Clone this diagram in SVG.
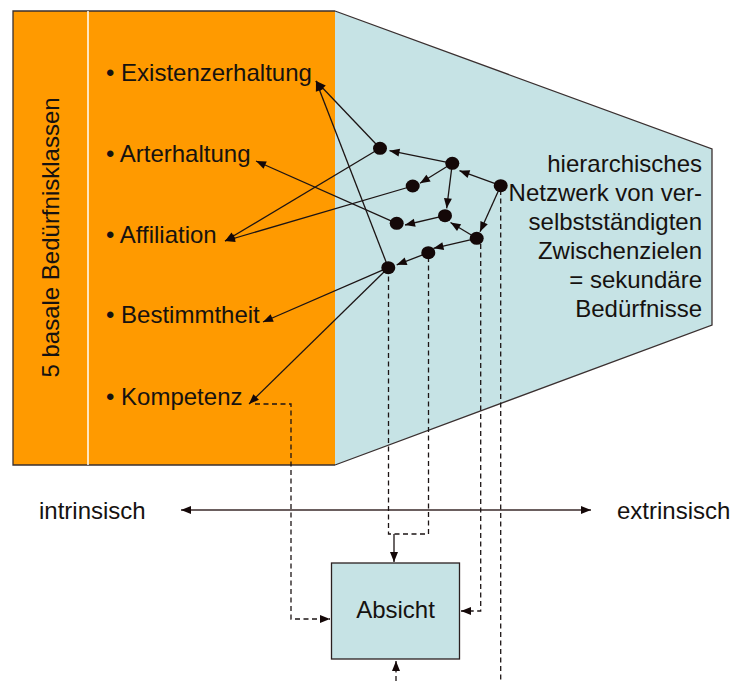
<svg xmlns="http://www.w3.org/2000/svg" width="734" height="681" viewBox="0 0 734 681">
  <style>
    .t { font-family: "Liberation Sans", Arial, sans-serif; font-size: 24px; fill: #161210; }
    .edge { fill: none; stroke: #1c1414; stroke-width: 1.3; }
    .dash { fill: none; stroke: #1c1414; stroke-width: 1.3; stroke-dasharray: 5 3.5; }
    .dot { fill: #140808; }
  </style>
  <defs>
    <marker id="arr" markerUnits="userSpaceOnUse" markerWidth="12" markerHeight="10" refX="10" refY="4" orient="auto-start-reverse" overflow="visible">
      <path d="M0,0 L10,4 L0,8 Z" fill="#140808"/>
    </marker>
  </defs>

  <rect width="734" height="681" fill="#ffffff"/>

  <!-- need classes panel -->
  <g id="classes-panel">
    <rect x="13" y="11" width="322" height="454" fill="#ff9a00"/>
    <path d="M335,11 H13 V465 H335" fill="none" stroke="#3a3030" stroke-width="1.3"/>
    <line x1="88" y1="11" x2="88" y2="465" stroke="#ffffff" stroke-width="1.5"/>
    <text class="t" text-anchor="middle" transform="translate(59,237.5) rotate(-90)">5 basale Bedürfnisklassen</text>
  </g>

  <!-- network panel -->
  <g id="network-panel">
    <path d="M335,11 L712,149 L712,325 L335,465 Z" fill="#c6e3e5"/>
    <path d="M335,11 L712,149 L712,325 L335,465" fill="none" stroke="#3a3030" stroke-width="1.3"/>
    <g class="t" text-anchor="end">
      <text x="702" y="172">hierarchisches</text>
      <text x="702" y="201">Netzwerk von ver-</text>
      <text x="702" y="230">selbstständigten</text>
      <text x="702" y="259">Zwischenzielen</text>
      <text x="702" y="288">= sekundäre</text>
      <text x="702" y="317">Bedürfnisse</text>
    </g>
  </g>

  <g id="need-existenzerhaltung"><text class="t" x="106" y="81">• Existenzerhaltung</text></g>
  <g id="need-arterhaltung"><text class="t" x="106" y="162">• Arterhaltung</text></g>
  <g id="need-affiliation"><text class="t" x="106" y="243">• Affiliation</text></g>
  <g id="need-bestimmtheit"><text class="t" x="106" y="323">• Bestimmtheit</text></g>
  <g id="need-kompetenz"><text class="t" x="106" y="405">• Kompetenz</text></g>

  <g id="intrinsic"><text class="t" x="39" y="519">intrinsisch</text></g>
  <g id="extrinsic"><text class="t" x="617" y="519">extrinsisch</text></g>

  <g id="absicht">
    <rect x="331.5" y="563" width="128" height="96" fill="#c6e3e5" stroke="#2a2020" stroke-width="1.3"/>
    <text class="t" x="395.5" y="618" text-anchor="middle">Absicht</text>
  </g>

  <!-- connectors -->
  <g id="connectors">
    <!-- links inside the network -->
    <line class="edge" x1="452.3" y1="163.3" x2="389.5" y2="150.7" marker-end="url(#arr)"/>
    <line class="edge" x1="500.7" y1="185.7" x2="459.5" y2="170.7" marker-end="url(#arr)"/>
    <line class="edge" x1="452.3" y1="163.3" x2="420" y2="183.3" marker-end="url(#arr)"/>
    <line class="edge" x1="452.3" y1="163.3" x2="446.7" y2="208.3" marker-end="url(#arr)"/>
    <line class="edge" x1="500.7" y1="185.7" x2="480" y2="231.7" marker-end="url(#arr)"/>
    <line class="edge" x1="476.7" y1="238.3" x2="450.5" y2="222.5" marker-end="url(#arr)"/>
    <line class="edge" x1="445" y1="215.7" x2="405" y2="225" marker-end="url(#arr)"/>
    <line class="edge" x1="476.7" y1="238.3" x2="433.5" y2="248.3" marker-end="url(#arr)"/>
    <line class="edge" x1="428.3" y1="252.7" x2="396.7" y2="264.8" marker-end="url(#arr)"/>

    <!-- links to the basic needs -->
    <line class="edge" x1="380" y1="148.3" x2="316" y2="81" marker-end="url(#arr)"/>
    <line class="edge" x1="388.3" y1="267.7" x2="316" y2="81" marker-end="url(#arr)"/>
    <line class="edge" x1="380" y1="148.3" x2="225" y2="241" marker-end="url(#arr)"/>
    <line class="edge" x1="412.7" y1="186" x2="225" y2="241" marker-end="url(#arr)"/>
    <line class="edge" x1="396.7" y1="223.3" x2="256" y2="161" marker-end="url(#arr)"/>
    <line class="edge" x1="388.3" y1="267.7" x2="263" y2="322" marker-end="url(#arr)"/>
    <line class="edge" x1="388.3" y1="267.7" x2="249" y2="404" marker-end="url(#arr)"/>

    <!-- intrinsic / extrinsic axis -->
    <line x1="181" y1="510" x2="591" y2="510" stroke="#3a2a2a" stroke-width="1.3" marker-start="url(#arr)" marker-end="url(#arr)"/>

    <!-- dashed feeds into the intention -->
    <path class="dash" d="M255,404 H291 V619 H330" marker-end="url(#arr)"/>
    <path class="dash" d="M388.5,268 V534 H428.5 V253"/>
    <line class="edge" x1="394" y1="534" x2="394" y2="562" marker-end="url(#arr)"/>
    <path class="dash" d="M480.7,244 V611 H461" marker-end="url(#arr)"/>
    <path class="dash" d="M500.7,190 V681"/>
    <path class="dash" d="M396,681 V661" marker-end="url(#arr)"/>
  </g>

  <!-- intermediate goals -->
  <g id="goal-1"><ellipse class="dot" cx="380" cy="148.3" rx="7" ry="6.5"/></g>
  <g id="goal-2"><ellipse class="dot" cx="452.3" cy="163.3" rx="7" ry="6.5"/></g>
  <g id="goal-3"><ellipse class="dot" cx="500.7" cy="185.7" rx="7" ry="6.5"/></g>
  <g id="goal-4"><ellipse class="dot" cx="412.7" cy="186" rx="7" ry="6.5"/></g>
  <g id="goal-5"><ellipse class="dot" cx="445" cy="215.7" rx="7" ry="6.5"/></g>
  <g id="goal-6"><ellipse class="dot" cx="396.7" cy="223.3" rx="7" ry="6.5"/></g>
  <g id="goal-7"><ellipse class="dot" cx="476.7" cy="238.3" rx="7" ry="6.5"/></g>
  <g id="goal-8"><ellipse class="dot" cx="428.3" cy="252.7" rx="7" ry="6.5"/></g>
  <g id="goal-9"><ellipse class="dot" cx="388.3" cy="267.7" rx="7" ry="6.5"/></g>
</svg>
